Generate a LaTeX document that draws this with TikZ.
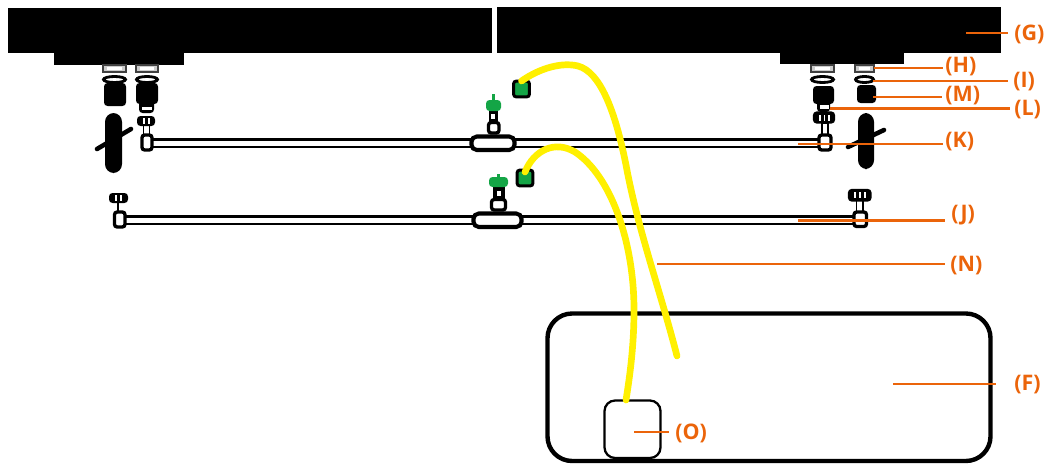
\documentclass[tikz,border=0pt]{standalone}
\usepackage{fontspec}
\setsansfont{Open Sans}
\definecolor{leadorange}{RGB}{235,100,10}
\definecolor{capgreen}{RGB}{20,165,70}
\definecolor{hoseyellow}{RGB}{255,240,0}
\tikzset{
    solid part/.style={fill=black, rounded corners=2pt},
    outlined/.style={draw=black, fill=white, line width=1.9pt, rounded corners=1.5pt},
    tube/.style={draw=black, fill=white, line width=1.7pt},
    handle/.style={black, line width=2.6pt, line cap=round},
    hose/.style={hoseyellow, line width=3.8pt, line cap=round},
    leader/.style={leadorange, line width=1.3pt},
    tag/.style={text=leadorange, font=\sffamily\bfseries\fontsize{12.2}{14}\selectfont, inner sep=0pt, anchor=west},
    seat/.style={draw=black!75, fill=white!80!black, line width=1.4pt},
    ring/.style={draw=black, fill=white, line width=1.6pt},
    slit/.style={white, line width=0.9pt},
    hose cap/.style={draw=black, fill=capgreen, line width=1.7pt, rounded corners=1.5pt, minimum size=9pt, inner sep=0pt},
}
\begin{document}
\begin{tikzpicture}[x=0.02cm, y=-0.02cm]
    \useasboundingbox (0,0) rectangle (1047,463);

    % ceiling bars
    \fill (8,8) rectangle (492,53);
    \fill (497,7) rectangle (1001,53);
    \fill (54,53) rectangle (184,65);
    \fill (780,53) rectangle (904,64);

    % seats and rings
    \foreach \xa/\xb in {103/126, 136/158, 811/834, 855/874} {
        \draw[seat] (\xa,65) rectangle (\xb,72);
        \fill[white] (\xa+4,67) rectangle (\xb-4,70);
        \draw[ring] ({(\xa+\xb)/2},79.5) ellipse ({(\xb-\xa)/2-0.5} and 3);
    }

    % connector bodies
    \fill[solid part] (104,83) rectangle (126,106);
    \fill[solid part] (136,83) rectangle (158,104);
    \fill[solid part] (139,100) rectangle (154,113);
    \fill[white] (142,107) rectangle (152,110);
    \fill[solid part] (813,86) rectangle (834,104);
    \fill[solid part] (817,100) rectangle (830,112);
    \fill[white] (820,105) rectangle (829,109);
    \fill[solid part] (857,85) rectangle (876,103);

    % tall grommets
    \draw[handle] (97,149) -- (131,129);
    \fill[black, rounded corners=5pt] (105,113) rectangle (122,173);
    \draw[handle] (848,147) -- (884,130);
    \fill[black, rounded corners=5pt] (858,113) rectangle (874,169);

    % upper tube
    \draw[tube] (150,139.5) rectangle (825,147);
    \draw[tube, line width=1pt] (143.5,124) rectangle (149.5,135);
    \draw[outlined] (142,135) rectangle (152,150);
    \fill[solid part] (137,116) rectangle (155,126);
    \draw[slit] (144,118) -- (144,124) (149,118) -- (149,124);
    \draw[tube, line width=1pt] (822,123) rectangle (828,135);
    \draw[outlined] (819,135) rectangle (831,150);
    \draw[outlined, fill=black] (814.5,113) rectangle (833.5,122);
    \draw[slit] (820,115) -- (820,121) (824.5,115) -- (824.5,121) (829,115) -- (829,121);

    % lower tube
    \draw[tube] (122,216.5) rectangle (860,224);
    \draw[black, line width=1pt] (118,203) -- (118,212);
    \draw[outlined] (114.5,212) rectangle (125,227);
    \fill[solid part] (109,193) rectangle (128,203);
    \draw[slit] (116,195) -- (116,201) (121,195) -- (121,201);
    \draw[tube, line width=1pt] (856.5,200) rectangle (863,212);
    \draw[outlined] (854,212) rectangle (866.5,226.5);
    \draw[outlined, fill=black] (849.5,190.5) rectangle (870,200);
    \draw[slit] (855,192) -- (855,198) (860,192) -- (860,198) (865,192) -- (865,198);

    % valves on the tubes
    \draw[outlined, line width=2.3pt, rounded corners=3pt] (471.5,136.5) rectangle (514.5,150);
    \draw[outlined] (488.5,122.5) rectangle (499,133);
    \fill[black] (488.5,111) rectangle (498,122.5);
    \fill[white] (491,114) rectangle (495,119);
    \fill[capgreen, rounded corners=2pt] (486,100) rectangle (501,111);
    \fill[capgreen] (492,94) rectangle (495,100);

    \draw[outlined, line width=2.3pt, rounded corners=3pt] (473.5,213.5) rectangle (521.5,227);
    \draw[outlined] (491.5,199.5) rectangle (505.5,210);
    \fill[black] (492.5,187) rectangle (505,199.5);
    \fill[white] (497,191) rectangle (501,196);
    \fill[capgreen, rounded corners=2pt] (489,177) rectangle (508,187);
    \fill[capgreen] (497,174) rectangle (500,177);

    % instrument box
    \draw[line width=2.5pt, rounded corners=14pt] (547.5,313.5) rectangle (990.5,461);
    \draw[line width=1.3pt, rounded corners=6pt] (604.5,400.5) rectangle (660.5,458);

    % end caps of the hoses
    \node[hose cap] (capA) at (521.5,89) {};
    \node[hose cap] (capB) at (525,178) {};

    % yellow hoses
    \coordinate (hoseA) at (677,356);
    \coordinate (hoseB) at (626,400);
    \draw[hose] (capA.center) ++(0,-8) .. controls (540,68) and (562,62) .. (578,66)
        .. controls (600,72) and (615,110) .. (626,165)
        .. controls (638,230) and (660,290) .. (hoseA);
    \draw[hose] (capB.center) ++(0,-6) .. controls (534,150) and (555,140) .. (575,152)
        .. controls (610,175) and (634,240) .. (634,310)
        .. controls (634,345) and (630,375) .. (hoseB);

    % labels
    \node[tag] (tagG) at (1014,34) {(G)};
    \node[tag] (tagH) at (945,67) {(H)};
    \node[tag] (tagI) at (1013,82) {(I)};
    \node[tag] (tagM) at (945,96) {(M)};
    \node[tag] (tagL) at (1014,110) {(L)};
    \node[tag] (tagK) at (945,142) {(K)};
    \node[tag] (tagJ) at (951,215) {(J)};
    \node[tag] (tagN) at (950,266) {(N)};
    \node[tag] (tagF) at (1014,385) {(F)};
    \node[tag] (tagO) at (675,433) {(O)};

    % leaders
    \coordinate (ptG) at (966,33);
    \coordinate (ptH) at (874,68);
    \coordinate (ptI) at (873,81);
    \coordinate (ptM) at (873,97);
    \coordinate (ptL) at (830,108.5);
    \coordinate (ptK) at (798,144);
    \coordinate (ptJ) at (798,220.5);
    \coordinate (ptN) at (657,264);
    \coordinate (ptF) at (893,384);
    \coordinate (ptO) at (634,432);
    \draw[leader] (ptG) -- ++(42,0);
    \draw[leader] (ptH) -- ++(69,0);
    \draw[leader] (ptI) -- ++(135,0);
    \draw[leader] (ptM) -- ++(69,0);
    \draw[leader] (ptL) -- ++(180,0);
    \draw[leader] (ptK) -- ++(145,0);
    \draw[leader] (ptJ) -- ++(147,0);
    \draw[leader] (ptN) -- ++(288,0);
    \draw[leader] (ptF) -- ++(103,0);
    \draw[leader] (ptO) -- ++(35,0);
\end{tikzpicture}
\end{document}
